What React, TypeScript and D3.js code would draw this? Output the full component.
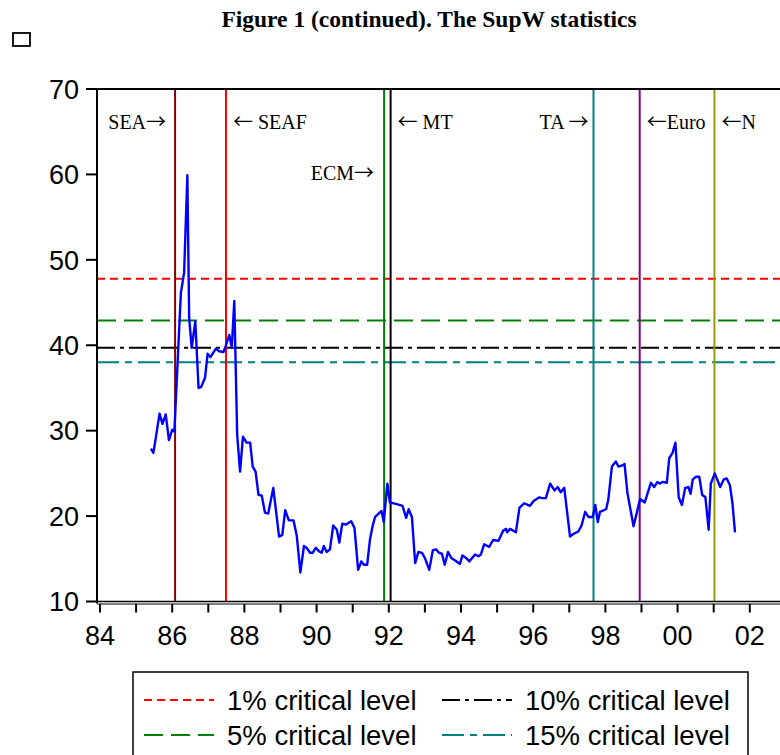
import React from "react";
import * as d3 from "d3";

// ---- data ----
const dates: number[] = [
  85.41, 85.48, 85.65, 85.73, 85.82, 85.91, 86.0, 86.06, 86.24, 86.33, 86.42, 86.47, 86.54, 86.64,
  86.73, 86.8, 86.91, 86.98, 87.06, 87.21, 87.3, 87.42, 87.48, 87.58, 87.65, 87.72, 87.8, 87.88,
  87.96, 88.06, 88.16, 88.23, 88.31, 88.39, 88.48, 88.57, 88.66, 88.8, 88.96, 89.05, 89.13, 89.23,
  89.36, 89.45, 89.55, 89.65, 89.72, 89.82, 89.89, 89.98, 90.06, 90.14, 90.2, 90.28, 90.37, 90.46,
  90.56, 90.63, 90.71, 90.81, 90.96, 91.05, 91.15, 91.24, 91.31, 91.4, 91.48, 91.55, 91.62, 91.72,
  91.8, 91.86, 91.96, 92.03, 92.22, 92.38, 92.48, 92.55, 92.64, 92.73, 92.82, 92.92, 93.01, 93.12,
  93.22, 93.31, 93.39, 93.47, 93.55, 93.64, 93.73, 93.84, 93.97, 94.04, 94.14, 94.23, 94.39, 94.48,
  94.55, 94.64, 94.78, 94.89, 95.04, 95.17, 95.25, 95.28, 95.36, 95.52, 95.62, 95.75, 95.91, 96.02,
  96.17, 96.24, 96.35, 96.47, 96.59, 96.68, 96.76, 96.86, 97.02, 97.11, 97.25, 97.34, 97.44, 97.53,
  97.65, 97.72, 97.79, 97.85, 98.02, 98.08, 98.18, 98.29, 98.36, 98.45, 98.53, 98.61, 98.78, 98.96,
  99.09, 99.26, 99.35, 99.44, 99.51, 99.58, 99.7, 99.77, 99.86, 99.94, 100.03, 100.12, 100.21,
  100.3, 100.36, 100.42, 100.51, 100.6, 100.68, 100.77, 100.86, 100.92, 101.03, 101.18, 101.28,
  101.36, 101.45, 101.52, 101.59,
];
const supW: number[] = [
  27.9, 27.4, 32.0, 30.8, 31.9, 28.9, 30.1, 29.9, 46.1, 48.5, 59.9, 43.2, 39.7, 42.8,
  35.0, 35.1, 36.2, 39.0, 38.6, 39.6, 39.3, 39.2, 39.9, 41.2, 39.7, 45.2, 29.5, 25.2,
  29.3, 28.6, 28.6, 25.8, 25.2, 22.5, 22.4, 20.4, 20.3, 23.3, 17.6, 17.8, 20.7, 19.5,
  19.5, 17.7, 13.4, 16.5, 16.3, 15.7, 15.7, 16.3, 15.9, 15.7, 16.5, 15.8, 16.1, 18.9,
  18.4, 16.9, 19.1, 19.0, 19.4, 18.6, 13.7, 14.7, 14.3, 14.3, 17.3, 18.8, 19.9, 20.3,
  20.6, 19.3, 23.8, 21.6, 21.4, 21.2, 19.8, 20.8, 19.9, 14.5, 15.8, 15.7, 15.0, 13.7,
  16.0, 16.1, 15.7, 15.6, 14.3, 15.8, 15.1, 14.8, 14.4, 15.4, 15.1, 14.7, 15.5, 15.3,
  15.5, 16.7, 16.4, 17.2, 17.1, 18.3, 18.5, 18.1, 18.5, 18.1, 21.0, 21.5, 21.2, 21.8,
  22.2, 22.1, 22.1, 23.8, 23.0, 23.4, 22.8, 23.3, 17.6, 17.9, 18.2, 18.9, 20.5, 19.9,
  19.9, 21.3, 19.3, 20.5, 20.8, 21.9, 25.8, 26.4, 25.8, 25.9, 26.1, 22.7, 18.8, 22.0,
  21.6, 23.9, 23.4, 24.0, 23.8, 24.0, 23.9, 26.8, 27.4, 28.6, 22.2, 21.3, 23.3,
  23.4, 22.6, 24.3, 24.6, 24.6, 22.5, 22.2, 18.4, 23.8, 25.0, 23.4, 24.3,
  24.4, 23.6, 21.5, 18.1,
];

const critNames: string[] = ["1% critical level", "5% critical level", "10% critical level", "15% critical level"];
const critValues: number[] = [47.8, 42.9, 39.7, 38.0];
const critColors: string[] = ["#ff0000", "#008000", "#000000", "#008080"];
const critDashes: string[] = ["8,5", "19,8", "18,5,4,5", "22,6,7,6"];

const eventNames: string[] = ["SEA", "SEAF", "ECM", "MT", "TA", "Euro", "N"];
// label text parts: [before arrow, arrow, after arrow]
const eventLabelBefore: string[] = ["SEA", "", "ECM", "", "TA ", "", ""];
const eventLabelArrow: string[] = ["\u2192", "\u2190", "\u2192", "\u2190", "\u2192", "\u2190", "\u2190"];
const eventLabelAfter: string[] = ["", " SEAF", "", " MT", "", "Euro", "N"];
const eventDates: number[] = [86.08, 87.49, 91.87, 92.05, 97.67, 98.95, 101.02];
const eventColors: string[] = ["#800000", "#ff0000", "#008000", "#000000", "#008080", "#800080", "#9a9a00"];

const yTicks: number[] = [10, 20, 30, 40, 50, 60, 70];
const xTicksMajor: number[] = [84, 86, 88, 90, 92, 94, 96, 98, 100, 102];
const xTicksMinor: number[] = d3.range(84, 103, 1);

export default function App() {
  const W = 780;
  const H = 755;
  const left = 97;
  const top = 89;
  const bottom = 601.5;
  const x = d3.scaleLinear().domain([84, 103]).range([100, 100 + 19 * 36.1]);
  const y = d3.scaleLinear().domain([10, 70]).range([bottom, top]);

  const line = d3
    .line<number>()
    .x((_, i) => x(dates[i]))
    .y((v) => y(v));

  const labelFont = "'Liberation Serif', 'Times New Roman', serif";
  const arrowFont = "'Noto Sans CJK JP', 'DejaVu Sans', sans-serif";
  const axisFont = "'Liberation Sans', Arial, sans-serif";

  // label placement: anchor and offset relative to the event line
  const labelAnchor = ["end", "start", "end", "start", "end", "start", "start"];
  const labelDx = [-9, 7, -10, 7, -5, 7, 7];
  const labelRow = [0, 0, 1, 0, 0, 0, 0];

  const legendCols = [144, 442];
  const legendRows = [700, 735];
  const legendOrder = [0, 2, 1, 3]; // row-major placement: 1%,10% / 5%,15%

  return (
    <svg
      width={W}
      height={H}
      style={{ position: "absolute", left: 0, top: 0, display: "block", background: "#fff" }}
    >
      <rect x={0} y={0} width={W} height={H} fill="#fff" />
      <text
        x={429}
        y={27}
        textAnchor="middle"
        fontFamily={labelFont}
        fontWeight="bold"
        fontSize={23.5}
      >
        Figure 1 (continued). The SupW statistics
      </text>
      <rect x={13} y={33} width={17} height={13} fill="none" stroke="#000" strokeWidth={1.8} />

      {/* critical levels */}
      {critValues.map((v, i) => (
        <line
          key={"c" + i}
          x1={left}
          x2={W + 10}
          y1={y(v)}
          y2={y(v)}
          stroke={critColors[i]}
          strokeWidth={2}
          strokeDasharray={critDashes[i]}
        />
      ))}

      {/* event lines */}
      {eventDates.map((d, i) => (
        <line
          key={"e" + i}
          x1={x(d)}
          x2={x(d)}
          y1={top}
          y2={bottom}
          stroke={eventColors[i]}
          strokeWidth={2}
        />
      ))}
      {eventNames.map((nm, i) => (
        <text
          key={"l" + nm}
          x={x(eventDates[i]) + labelDx[i]}
          y={labelRow[i] === 0 ? 129 : 180}
          textAnchor={labelAnchor[i] as any}
          fontFamily={labelFont}
          fontSize={20}
        >
          {eventLabelBefore[i]}
          <tspan fontFamily={arrowFont} fontSize={20}>
            {eventLabelArrow[i]}
          </tspan>
          {eventLabelAfter[i]}
        </text>
      ))}

      {/* series */}
      <path d={line(supW) || ""} fill="none" stroke="#0000ff" strokeWidth={2.4} strokeLinejoin="round" />

      {/* frame */}
      <line x1={left} x2={W + 10} y1={top} y2={top} stroke="#000" strokeWidth={2} />
      <line x1={left} x2={left} y1={top} y2={bottom + 2} stroke="#000" strokeWidth={2} />
      <line x1={left} x2={W + 10} y1={bottom} y2={bottom} stroke="#000" strokeWidth={1.5} />
      <line x1={left} x2={W + 10} y1={bottom + 2.5} y2={bottom + 2.5} stroke="#555" strokeWidth={1.5} />

      {/* y axis */}
      {yTicks.map((t) => (
        <g key={"y" + t}>
          <line x1={86} x2={left} y1={y(t)} y2={y(t)} stroke="#000" strokeWidth={2} />
          <text
            x={79}
            y={y(t)}
            dy="0.36em"
            textAnchor="end"
            fontFamily={axisFont}
            fontSize={27}
          >
            {t}
          </text>
        </g>
      ))}

      {/* x axis */}
      {xTicksMinor.map((t) => (
        <line key={"xm" + t} x1={x(t)} x2={x(t)} y1={bottom + 2.5} y2={bottom + 11} stroke="#000" strokeWidth={2} />
      ))}
      {xTicksMajor.map((t) => (
        <text
          key={"xl" + t}
          x={x(t)}
          y={645}
          textAnchor="middle"
          fontFamily={axisFont}
          fontSize={27}
        >
          {String(t % 100).padStart(2, "0")}
        </text>
      ))}

      {/* legend */}
      <rect x={133} y={672} width={615} height={95} fill="#fff" stroke="#000" strokeWidth={1.5} />
      {legendOrder.map((ci, k) => {
        const col = k % 2;
        const row = Math.floor(k / 2);
        const lx = legendCols[col];
        const ly = legendRows[row];
        return (
          <g key={"lg" + ci}>
            <line
              x1={lx}
              x2={lx + 70}
              y1={ly}
              y2={ly}
              stroke={critColors[ci]}
              strokeWidth={2}
              strokeDasharray={critDashes[ci]}
            />
            <text
              x={lx + 83}
              y={ly}
              dy="0.36em"
              fontFamily={axisFont}
              fontSize={27.5}
            >
              {critNames[ci]}
            </text>
          </g>
        );
      })}
    </svg>
  );
}
